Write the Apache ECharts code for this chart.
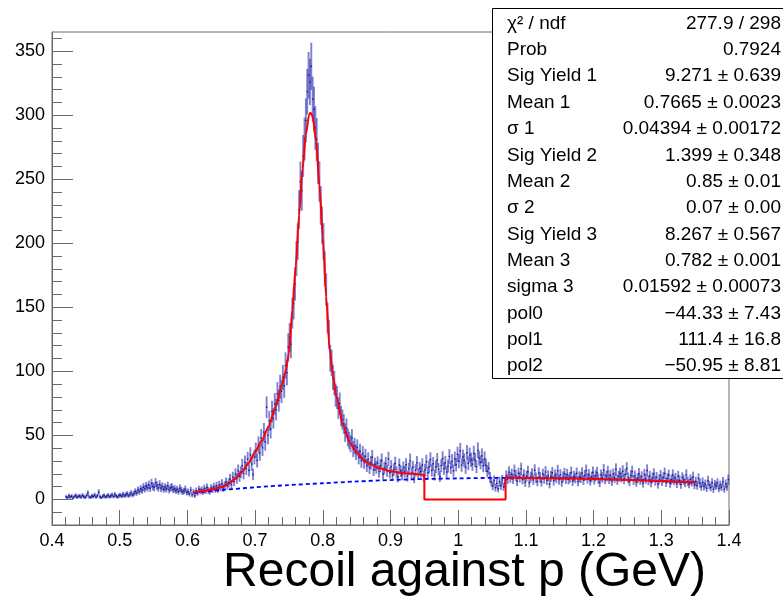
<!DOCTYPE html>
<html><head><meta charset="utf-8">
<script src="https://cdn.jsdelivr.net/npm/echarts@6/dist/echarts.min.js"></script>
<style>html,body{margin:0;padding:0;background:#fff}#c{width:783px;height:600px}</style>
</head><body><div id="c"></div>
<script>
// ---- histogram: bins of width 0.002 starting at 0.42 ----
const binStart = 0.42;
const binWidth = 0.002;
const counts = [
  /*0.42*/ 2.1, 1.4, 2.8, 1.9, 2.5, 1.2, 2.2, 3.0, 1.7, 2.4,
  /*0.44*/ 2.6, 1.8, 3.1, 2.2, 1.5, 2.9, 4.8, 2.0, 1.6, 2.7,
  /*0.46*/ 2.3, 3.4, 1.9, 2.8, 5.6, 2.1, 1.3, 2.5, 3.0, 1.8,
  /*0.48*/ 2.4, 3.2, 2.0, 2.9, 3.5, 2.2, 3.8, 2.6, 1.9, 3.1,
  /*0.50*/ 3.3, 2.5, 4.0, 2.8, 3.6, 4.4, 2.9, 3.9, 5.1, 3.4,
  /*0.52*/ 4.6, 6.2, 5.0, 7.4, 6.1, 8.3, 7.0, 9.6, 8.2, 10.4,
  /*0.54*/ 9.1, 11.3, 8.7, 12.5, 10.2, 9.4, 13.1, 10.8, 9.0, 11.6,
  /*0.56*/ 8.8, 10.1, 7.9, 9.5, 8.2, 10.6, 7.4, 8.9, 9.7, 7.6,
  /*0.58*/ 8.4, 6.9, 7.8, 6.2, 8.7, 7.1, 5.8, 6.6, 8.0, 5.4,
  /*0.60*/ 6.1, 4.3, 7.2, 3.5, 5.8, 2.9, 6.7, 5.0, 7.9, 6.3,
  /*0.62*/ 7.4, 5.9, 8.6, 6.8, 9.3, 7.1, 6.2, 8.9, 7.7, 9.8,
  /*0.64*/ 8.1, 10.6, 7.9, 11.2, 9.4, 12.3, 8.8, 10.9, 13.5, 11.0,
  /*0.66*/ 12.8, 15.9, 11.6, 17.4, 14.1, 19.8, 16.2, 22.5, 18.0, 21.3,
  /*0.68*/ 26.4, 20.1, 28.9, 24.0, 31.5, 22.7, 34.8, 27.6, 19.4, 33.1,
  /*0.70*/ 38.2, 30.5, 42.6, 36.1, 47.9, 40.3, 52.4, 44.8, 72.0, 50.2,
  /*0.72*/ 61.3, 55.0, 68.7, 63.2, 74.5, 70.1, 82.6, 77.3, 88.0, 84.4,
  /*0.74*/ 95.2, 88.7, 104.6, 99.0, 118.8, 126.5, 121.2, 145.4, 152.9, 168.3,
  /*0.76*/ 188.0, 201.4, 226.3, 248.1, 241.0, 268.2, 281.5, 296.0, 318.4, 331.2,
  /*0.78*/ 326.0, 338.2, 312.5, 304.7, 290.1, 281.0, 262.4, 248.2, 229.5, 214.0,
  /*0.80*/ 201.5, 180.2, 163.8, 141.6, 128.9, 110.3, 106.7, 95.2, 90.8, 81.4,
  /*0.82*/ 79.6, 71.2, 74.8, 65.0, 62.3, 58.9, 52.1, 55.7, 48.4, 46.0,
  /*0.84*/ 43.5, 47.9, 39.2, 41.6, 36.8, 40.5, 33.1, 37.4, 30.2, 35.8,
  /*0.86*/ 29.4, 33.7, 26.5, 31.2, 24.8, 28.6, 32.9, 23.1, 27.4, 25.0,
  /*0.88*/ 28.3, 21.7, 26.2, 30.4, 19.8, 24.5, 27.9, 22.3, 31.6, 20.9,
  /*0.90*/ 25.6, 18.9, 23.4, 28.1, 21.0, 17.5, 26.8, 22.2, 19.3, 24.7,
  /*0.92*/ 21.5, 27.0, 18.2, 23.9, 30.3, 20.4, 25.1, 16.8, 22.7, 28.5,
  /*0.94*/ 19.6, 24.2, 21.8, 26.9, 18.1, 23.0, 29.4, 20.7, 25.5, 31.2,
  /*0.96*/ 22.6, 27.8, 19.0, 25.3, 30.7, 23.5, 17.9, 26.4, 32.0, 24.1,
  /*0.98*/ 28.6, 21.3, 26.1, 33.5, 24.8, 29.9, 22.4, 31.7, 27.0, 35.2,
  /*1.00*/ 29.8, 38.0, 26.7, 33.1, 30.5, 24.9, 36.4, 28.2, 34.6, 31.0,
  /*1.02*/ 27.5, 35.9, 30.8, 25.6, 38.3, 32.1, 28.9, 34.0, 26.3, 31.8,
  /*1.04*/ 26.5, 22.0, 24.3, 17.2, 13.6, 10.4, 14.8, 9.1, 12.5, 8.3,
  /*1.06*/ 13.9, 10.6, 15.2, 9.8, 12.7, 18.4, 15.9, 21.2, 17.0, 19.6,
  /*1.08*/ 16.1, 22.4, 18.7, 14.2, 20.3, 17.5, 23.8, 15.6, 19.1, 13.4,
  /*1.10*/ 18.2, 21.6, 12.9, 17.4, 19.9, 15.1, 22.7, 16.8, 14.0, 20.5,
  /*1.12*/ 17.3, 13.8, 19.6, 16.2, 21.4, 15.0, 18.5, 12.1, 17.9, 20.8,
  /*1.14*/ 14.6, 18.9, 16.7, 22.3, 15.4, 19.2, 13.5, 17.6, 20.1, 16.0,
  /*1.16*/ 19.4, 15.7, 17.2, 21.0, 14.3, 18.1, 16.6, 20.4, 13.9, 17.8,
  /*1.18*/ 16.9, 20.6, 15.2, 18.7, 22.5, 16.4, 19.3, 14.7, 17.5, 21.1,
  /*1.20*/ 15.5, 18.4, 20.9, 16.3, 13.2, 19.0, 17.1, 22.8, 15.8, 18.2,
  /*1.22*/ 21.5, 16.0, 18.8, 14.4, 19.7, 17.0, 23.3, 15.3, 18.0, 20.2,
  /*1.24*/ 17.4, 22.0, 15.9, 19.5, 24.1, 16.8, 14.0, 18.6, 21.7, 15.1,
  /*1.26*/ 18.3, 13.6, 16.5, 20.0, 15.2, 17.7, 12.8, 19.4, 16.1, 22.6,
  /*1.28*/ 15.0, 18.0, 13.1, 16.9, 19.8, 14.5, 17.3, 11.9, 15.8, 18.7,
  /*1.30*/ 14.2, 17.1, 20.3, 13.3, 16.4, 18.9, 12.6, 15.5, 19.1, 14.8,
  /*1.32*/ 16.6, 12.4, 18.1, 14.9, 11.7, 17.0, 15.3, 13.0, 19.2, 14.1,
  /*1.34*/ 12.2, 15.6, 13.8, 17.5, 11.4, 14.0, 10.9, 16.3, 12.7, 9.8,
  /*1.36*/ 13.5, 10.2, 12.0, 8.7, 14.6, 11.1, 9.3, 13.0, 7.9, 11.8,
  /*1.38*/ 10.6, 12.9, 8.5, 11.3, 9.6, 13.8, 8.0, 12.1, 10.0, 15.4
];

// ---- total fit (red) ----
const fitX = [0.61,0.62,0.63,0.64,0.65,0.66,0.67,0.68,0.69,0.70,0.71,0.72,0.73,0.74,0.745,0.75,0.755,0.76,0.765,0.77,0.775,0.78,0.782,0.785,0.79,0.795,0.80,0.805,0.81,0.815,0.82,0.83,0.84,0.85,0.86,0.87,0.88,0.90,0.92,0.95];
const fitY = [5.5,6.2,7.2,8.2,9.5,12,16,21,28,37,46,57,72,90,100,114,148,182,222,258,285,301,302,299,280,245,205,158,118,97,80,58,44,37,31,27.5,25,22,20.5,19];
const stepX = [0.95,0.95,1.07,1.07];
const stepY = [19,0,0,17];
const fit2X = [1.07,1.10,1.15,1.20,1.25,1.30,1.35];
const fit2Y = [17,16.8,16.4,16.0,15.2,14.3,13.2];

// ---- background (blue dashed) ----
const bkgX = [0.61,0.65,0.70,0.75,0.80,0.85,0.90,0.95,1.00,1.05,1.10,1.15,1.20,1.25,1.30,1.35];
const bkgY = [5.0,7.3,9.4,11.2,12.6,14.0,15.1,15.9,16.4,16.8,16.9,16.6,16.1,15.3,14.3,13.2];

// ---- axes ----
const xMin = 0.4, xMax = 1.4, xStep = 0.1;
const yMin = -20, yMax = 365;
const yMajorTicks = [0,50,100,150,200,250,300,350];
const yMinorTicks = [-20,-10,0,10,20,30,40,50,60,70,80,90,100,110,120,130,140,150,160,170,180,190,200,210,220,230,240,250,260,270,280,290,300,310,320,330,340,350,360];
const xTitle = 'Recoil against p (GeV)';

// ---- stats box ----
const statLabels = ['χ² / ndf','Prob','Sig Yield 1','Mean 1','σ 1','Sig Yield 2','Mean 2','σ 2','Sig Yield 3','Mean 3','sigma 3','pol0','pol1','pol2'];
const statValues = ['277.9 / 298','0.7924','9.271 ± 0.639','0.7665 ± 0.0023','0.04394 ± 0.00172','1.399 ± 0.348','0.85 ± 0.01','0.07 ± 0.00','8.267 ± 0.567','0.782 ± 0.001','0.01592 ± 0.00073','−44.33 ± 7.43','111.4 ± 16.8','−50.95 ± 8.81'];

const FONT = '"Liberation Sans", Arial, Helvetica, sans-serif';
const chart = echarts.init(document.getElementById('c'), null, {renderer:'canvas'});

const histData = counts.map((v, i) => [binStart + binWidth * (i + 0.5), v, Math.sqrt(v)]);
const pairs = (xs, ys) => xs.map((x, i) => [x, ys[i]]);

const axisGray = '#6a6a6a';
const statsGraphics = [{
  type: 'rect', z: 100,
  shape: {x: 492.5, y: 8.5, width: 300, height: 370},
  style: {fill: '#fff', stroke: '#000', lineWidth: 1}
}];
statLabels.forEach((t, i) => {
  const y = 23.5 + 26.36 * i;
  statsGraphics.push({type: 'text', z: 101, style: {x: 507, y: y, text: t, font: '19px ' + FONT, fill: '#000', textAlign: 'left', textVerticalAlign: 'middle', align: 'left', verticalAlign: 'middle'}});
  statsGraphics.push({type: 'text', z: 101, style: {x: 781, y: y, text: statValues[i], font: '19px ' + FONT, fill: '#000', textAlign: 'right', textVerticalAlign: 'middle', align: 'right', verticalAlign: 'middle'}});
});

chart.setOption({
  animation: false,
  backgroundColor: '#fff',
  grid: {left: 52, right: 54, top: 32, bottom: 75, show: true, borderColor: axisGray, borderWidth: 1, backgroundColor: 'transparent'},
  xAxis: {
    type: 'value', min: xMin, max: xMax, interval: xStep,
    axisLine: {show: true, onZero: false, lineStyle: {color: axisGray}},
    axisTick: {show: true, inside: true, length: 15, lineStyle: {color: axisGray}},
    minorTick: {show: true, splitNumber: 5, length: 8, lineStyle: {color: axisGray}},
    splitLine: {show: false},
    axisLabel: {fontSize: 18, fontFamily: FONT, color: '#000', margin: 7,
      formatter: v => Math.abs(v - 1) < 1e-9 ? '1' : v.toFixed(1)}
  },
  yAxis: [{
    type: 'value', min: yMin, max: yMax,
    axisLine: {show: true, onZero: false, lineStyle: {color: axisGray}},
    axisTick: {show: true, inside: true, length: 21, customValues: yMajorTicks, lineStyle: {color: axisGray}},
    axisLabel: {fontSize: 18, fontFamily: FONT, color: '#000', margin: 7, customValues: yMajorTicks},
    splitLine: {show: false}
  }, {
    type: 'value', min: yMin, max: yMax, position: 'left',
    axisLine: {show: false},
    axisTick: {show: true, inside: true, length: 10, customValues: yMinorTicks, lineStyle: {color: axisGray}},
    axisLabel: {show: false},
    splitLine: {show: false}
  }],
  series: [{
    type: 'custom', name: 'data', xAxisIndex: 0, yAxisIndex: 0, z: 2,
    data: histData,
    renderItem: (params, api) => {
      const x = api.value(0), y = api.value(1), e = api.value(2);
      const t = api.coord([x, y + e]);
      const b = api.coord([x, y - e]);
      const l = api.coord([x - binWidth / 2, y]);
      const r = api.coord([x + binWidth / 2, y]);
      return {type: 'group', children: [
        {type: 'line', shape: {x1: t[0], y1: t[1], x2: b[0], y2: b[1]}, style: {stroke: 'rgba(45,45,175,0.6)', lineWidth: 1.9}},
        {type: 'line', shape: {x1: l[0], y1: l[1], x2: r[0], y2: r[1]}, style: {stroke: '#10108a', lineWidth: 1.4}}
      ]};
    }
  }, {
    type: 'line', name: 'bkg', z: 3, data: pairs(bkgX, bkgY), showSymbol: false, smooth: 0.3,
    lineStyle: {color: '#0000ff', width: 1.8, type: [4, 3]}
  }, {
    type: 'line', name: 'fit', z: 4, data: pairs(fitX, fitY), showSymbol: false, smooth: 0.25, smoothMonotone: 'x',
    lineStyle: {color: '#ff0000', width: 2}
  }, {
    type: 'line', name: 'fitStep', z: 4, data: pairs(stepX, stepY), showSymbol: false,
    lineStyle: {color: '#ff0000', width: 2}
  }, {
    type: 'line', name: 'fit2', z: 4, data: pairs(fit2X, fit2Y), showSymbol: false, smooth: 0.3,
    lineStyle: {color: '#ff0000', width: 2}
  }],
  graphic: [
    {type: 'text', z: 50, style: {x: 706, y: 573, text: xTitle, font: '48px ' + FONT, fill: '#000', textAlign: 'right', textVerticalAlign: 'middle', align: 'right', verticalAlign: 'middle'}}
  ].concat(statsGraphics)
});
</script></body></html>
